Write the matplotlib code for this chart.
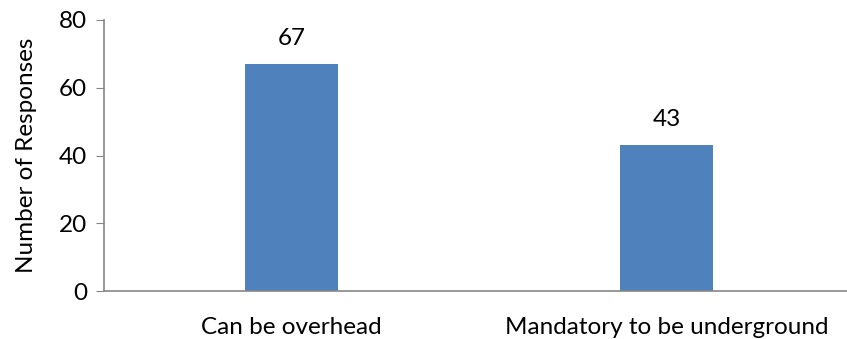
import matplotlib.pyplot as plt

categories = ["Can be overhead", "Mandatory to be underground"]
responses = [67, 43]

plt.rcParams["font.family"] = ["Lato", "DejaVu Sans"]

fig = plt.figure(figsize=(8.47, 3.39), dpi=100)
ax = fig.add_axes([104 / 847, 1 - 291 / 339, (847 - 104) / 847, (291 - 20) / 339])

positions = range(len(categories))
bars = ax.bar(positions, responses, width=0.25, color="#4F81BD")
for b, v in zip(bars, responses):
    ax.text(b.get_x() + b.get_width() / 2, v + 4.5, str(v),
            ha="center", va="bottom", fontsize=17.5, color="black")

ax.set_xlim(-0.5, 1.481)
ax.set_ylim(0, 80)
ax.set_yticks([0, 20, 40, 60, 80])
ax.set_xticks(list(positions))
ax.set_xticklabels(categories)
ax.set_ylabel("Number of Responses", fontsize=17.5)
# put the axis title near the left edge, like the original
ax.yaxis.set_label_coords(-(104 - 37) / 743, 0.5)

for s in ["top", "right"]:
    ax.spines[s].set_visible(False)
for s in ["left", "bottom"]:
    ax.spines[s].set_color("#868686")
    ax.spines[s].set_linewidth(1.2)
ax.tick_params(axis="y", length=6, color="#868686", labelsize=17.5, pad=6)
ax.tick_params(axis="x", length=0, labelsize=17.5, pad=19)

fig.savefig("out.png", dpi=100)
